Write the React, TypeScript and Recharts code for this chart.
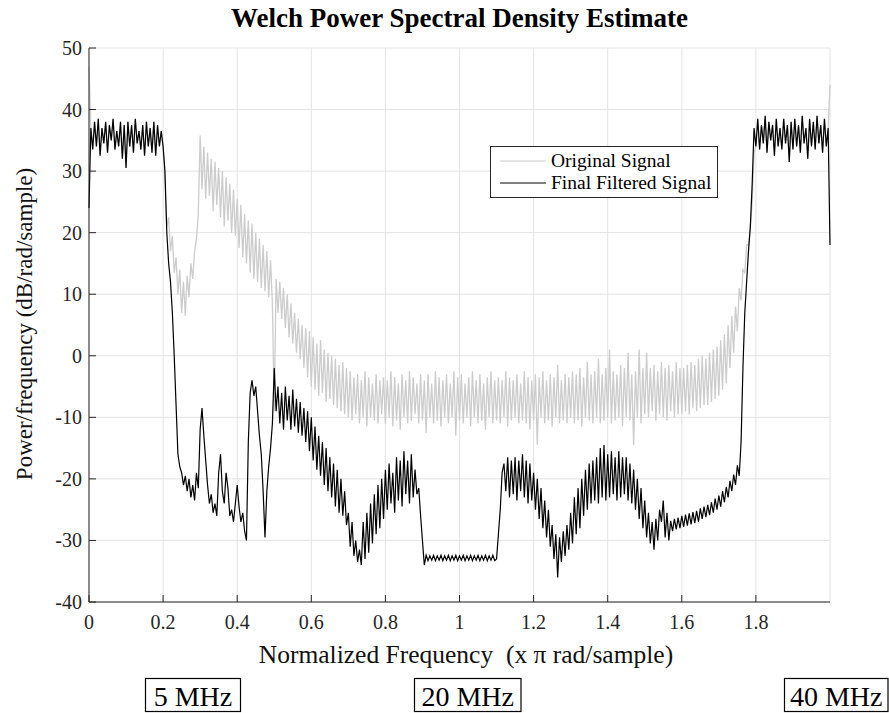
import React from 'react';
import { LineChart, Line, XAxis, YAxis, CartesianGrid, Legend } from 'recharts';

// PSD samples, one every 0.005 (x pi rad/sample), 0 .. 2 ; 20 per row = 0.1 wide
const filtered = [
  24, 37, 33.5, 38, 34, 38.5, 32.5, 37, 34.5, 38, 33, 37.5, 35, 38.5, 33.5, 36.5, 34, 38, 32, 37.5,
  30.5, 38, 34, 37.5, 33, 38.5, 34.5, 36.5, 33.5, 37.5, 32.5, 38, 34, 37, 33, 38, 32.5, 37.5, 34, 36.5,
  34, 30, 20, 15, 12, 7, 0, -8, -16, -18, -19, -21, -19.5, -22, -20, -23, -21, -23.5, -19, -21.5,
  -12, -8.5, -13, -17, -21, -24, -22.5, -25.5, -24, -26, -19, -16, -22, -24, -19, -21.5, -26, -25, -27, -24,
  -21, -24.5, -27, -25.5, -28.5, -30, -14, -6, -4, -6.5, -5, -9, -13, -16, -22, -29.5, -22, -18, -15, -11,
  -2, -9, -5, -11, -6, -12, -5, -10.5, -6.5, -12, -5.5, -11.5, -7, -12.5, -7.5, -13, -8.5, -14, -9, -15.5,
  -10, -17, -11.5, -18.5, -13, -19.5, -14, -21, -15, -22, -16.5, -23, -17.5, -24.5, -18.5, -25.5, -20, -26, -22, -27.5,
  -25.5, -31, -27, -32.5, -30, -33.5, -31.5, -34, -27, -33, -25.5, -32, -24, -30.5, -22.5, -29, -21, -28, -20, -26.5,
  -18.5, -25, -17.5, -24, -19, -25.5, -16.5, -23.5, -17, -24.5, -15.5, -22.5, -17, -24, -16, -23, -18.5, -22.5, -21.5, -26,
  -30, -34, -32.4, -33.3, -32.5, -33.2, -32.4, -33.3, -32.5, -33.2, -32.4, -33.3, -32.5, -33.2, -32.4, -33.3, -32.5, -33.2, -32.4, -33.3,
  -32.5, -33.2, -32.4, -33.3, -32.5, -33.2, -32.4, -33.3, -32.5, -33.2, -32.4, -33.3, -32.5, -33.2, -32.4, -33.3, -32.5, -33.2, -32.4, -33.3,
  -33, -29, -25, -19, -17.5, -22, -16.5, -23, -17, -22.5, -16.5, -23.5, -17, -22, -16, -23, -17, -24, -17.5, -23.5,
  -19, -25, -20, -26.5, -21.5, -28, -23.5, -29.5, -25, -31, -27.5, -33, -29, -36, -29.5, -33.5, -28.5, -32.5, -27.5, -31.5,
  -25.5, -30.5, -23, -29, -21.5, -28, -20, -26, -18.5, -25, -17.5, -24, -17, -23.5, -16.5, -24, -15, -23, -14.5, -23.5,
  -16, -23, -15.5, -22.5, -16.5, -23.5, -15.5, -23, -16.5, -22.5, -16.5, -23.5, -17.5, -24, -18.5, -25, -20, -26.5, -21.5, -28,
  -23.5, -29.5, -25.5, -30.5, -27, -31.5, -26.5, -30, -25, -27, -23.5, -29.5, -25.5, -30, -26.8, -28.5, -26.5, -28.2, -26.3, -28,
  -26, -27.8, -25.8, -27.6, -25.6, -27.4, -25.4, -27.2, -25.2, -27, -24.8, -26.5, -24.5, -26.2, -24.2, -25.9, -23.8, -25.5, -23.2, -25,
  -22.7, -24.5, -22, -23.8, -21.3, -23, -20.3, -22, -19.3, -21, -17.8, -19.5, -14, -2, 7, 12, 17, 21, 28, 37,
  34, 38.5, 33.5, 37.5, 34.5, 39, 33, 38, 35, 37.5, 32.5, 38.5, 34, 37, 33.5, 38.5, 34.5, 37.5, 31.5, 38,
  33.5, 38.5, 34, 37.5, 33, 39, 34.5, 37, 32, 38.5, 34, 38, 33.5, 39, 34.5, 37.5, 33, 38.5, 34, 37,
  18,
];

const original = [
  47, 37, 33.5, 38, 34, 38.5, 32.5, 37, 34.5, 38, 33, 37.5, 35, 38.5, 33.5, 36.5, 34, 38, 32, 37.5,
  30.5, 38, 34, 37.5, 33, 38.5, 34.5, 36.5, 33.5, 37.5, 32.5, 38, 34, 37, 33, 38, 32.5, 37.5, 34, 36.5,
  34, 28, 21, 22.5, 17, 19.5, 13.5, 16, 10, 14, 7, 12, 6.5, 13, 9.5, 15, 12.5, 17, 19, 23,
  35.8, 27, 34, 25.5, 33, 26, 32, 23.5, 31.5, 24.5, 30.5, 22.5, 30, 21, 29, 22, 28, 20, 27, 19.5,
  25.5, 17.5, 24.5, 16, 23, 15, 22, 13.5, 21.5, 12.5, 20, 12, 19, 11, 18, 10.5, 17, 9.5, 15.5, 8.5,
  -9, 12.5, 7, 12, 6, 11, 4.5, 10, 3, 8.5, 2, 7, 0.5, 6, -0.5, 5, -2, 4.5, -3.5, 4,
  -5, 3, -5.5, 2, -6.5, 2.5, -6, 1, -7.5, 0.5, -7, 0, -8, -0.5, -8.5, -1.5, -9, -1, -9.5, -2,
  -10, -2.5, -10.5, -3.5, -9.5, -3, -11, -4, -10, -2.5, -11.5, -3.5, -10, -4.5, -10.5, -3, -11, -4, -9.5, -3.5,
  -11, -4, -10, -2.5, -11.5, -3.5, -10.5, -4.5, -12, -3, -10, -4, -11, -2.5, -10.5, -3.5, -9.5, -4.5, -11, -3,
  -10.5, -4, -12.5, -3, -10, -4.5, -11, -2.5, -10.5, -3.5, -11.5, -4, -10, -3, -11, -4.5, -10, -2.5, -13, -3.5,
  -10.5, -3, -11, -4.5, -10, -3.5, -11.5, -2.5, -10, -4, -11, -3, -10.5, -4.5, -12, -3.5, -10, -2.5, -11, -4,
  -10.5, -3.5, -11, -4, -10, -2.5, -11.5, -3.5, -10.5, -4, -10, -3, -11, -4.5, -10.5, -2.5, -11, -3.5, -12, -4,
  -10.5, -3, -14.5, -3.5, -10, -2.5, -11, -4, -10.5, -3, -11.5, -3.5, -10, -1.5, -11, -4, -10.5, -3, -11, -3.5,
  -10, -2.5, -11, -3, -10.5, -2, -11.5, -3.5, -10, -1, -10.5, -3, -11, -2.5, -10, -0.5, -11, -3, -10.5, -2,
  -10, 1, -11, -2.5, -10.5, -3, -10, -1.5, -11.5, -2, -10, 0.5, -10.5, -3, -14.5, -2.5, -10, 1, -11, -2,
  -9.5, 0.5, -10, -2, -9, -1.5, -10.5, -2.5, -9.5, -1, -10, -2, -10.5, -1.5, -9, -2.5, -10, -1, -9.5, -2,
  -9.5, -2, -9, -1.5, -9.5, -1, -8.5, -1.5, -9, -0.5, -8.5, 0, -8, -0.5, -8, 0.5, -7.5, 1, -7, 1.5,
  -6.5, 2.5, -5.5, 3.5, -4.5, 5, -2, 6.5, 0.5, 8, 4, 11, 9, 14, 13.5, 18, 18, 21, 25, 33,
  34, 38.5, 33.5, 37.5, 34.5, 39, 33, 38, 35, 37.5, 32.5, 38.5, 34, 37, 33.5, 38.5, 34.5, 37.5, 31.5, 38,
  33.5, 38.5, 34, 37.5, 33, 39, 34.5, 37, 32, 38.5, 34, 38, 33.5, 39, 34.5, 37.5, 33, 38.5, 34, 37,
  44,
];

const freq = filtered.map((_, i) => i / 200);
const xTicks = [0, 0.2, 0.4, 0.6, 0.8, 1, 1.2, 1.4, 1.6, 1.8];
const yTicks = [-40, -30, -20, -10, 0, 10, 20, 30, 40, 50];
const seriesNames = ['Original Signal', 'Final Filtered Signal'];
const bandLabels = ['5 MHz', '20 MHz', '40 MHz'];

const data = freq.map((f, i) => ({ f, original: original[i], filtered: filtered[i] }));

const FONT = 'Liberation Serif';
const AXIS = '#262626';

// boxes under the plot, pixel layout
const boxes = [
  { x: 145.5, w: 95 },
  { x: 414.5, w: 106.5 },
  { x: 784.5, w: 103.5 },
];

const LegendBox = ({ payload }: any) => {
  const items = seriesNames
    .map((n) => (payload || []).find((p: any) => p.value === n))
    .filter(Boolean);
  return (
    <div style={{
      width: 226, height: 47, border: `1px solid ${AXIS}`, background: '#fff',
      fontFamily: FONT, fontSize: 19.5, color: '#000', paddingTop: 3, boxSizing: 'content-box', lineHeight: '22px',
    }}>
      {items.map((p: any) => (
        <div key={p.value} style={{ display: 'flex', alignItems: 'center', height: 22, whiteSpace: 'nowrap' }}>
          <svg width={60} height={4} style={{ flex: 'none' }}>
            <line x1={9} x2={55} y1={2} y2={2} stroke={p.color} strokeWidth={1} />
          </svg>
          <span>{p.value}</span>
        </div>
      ))}
    </div>
  );
};

const XTick = ({ x, y, payload }: any) => (
  <text x={x} y={y} dy={15} textAnchor="middle" fill={AXIS} fontSize={20} fontFamily={FONT}>
    {String(payload.value)}
  </text>
);

const YTick = ({ x, y, payload }: any) => (
  <text x={x} y={y} dy={7} textAnchor="end" fill={AXIS} fontSize={20} fontFamily={FONT}>
    {String(payload.value)}
  </text>
);

export default function App() {
  return (
    <div style={{ position: 'absolute', left: 0, top: 0, width: 889, height: 713, background: '#fff', fontFamily: FONT }}>
      <LineChart width={889} height={713} data={data} margin={{ top: 48, right: 59, bottom: 45, left: 10 }}>
        <CartesianGrid stroke="#e3e3e3" strokeWidth={1} />
        <XAxis
          dataKey="f" type="number" domain={[0, 2]} ticks={xTicks} height={66}
          tickSize={-7} tickMargin={19} stroke={AXIS} tick={<XTick />}
        />
        <XAxis xAxisId="top" orientation="top" dataKey="f" type="number" domain={[0, 2]} ticks={xTicks}
          height={0} tickSize={-7} tick={false} stroke={AXIS} />
        <YAxis
          type="number" domain={[-40, 50]} ticks={yTicks} width={79}
          tickSize={-7} tickMargin={14} stroke={AXIS} tick={<YTick />}
        />
        <YAxis yAxisId="right" orientation="right" type="number" domain={[-40, 50]} ticks={yTicks}
          width={0} tickSize={-7} tick={false} stroke={AXIS} />
        <Line dataKey="original" name={seriesNames[0]} stroke="#cccccc" strokeWidth={1.3} dot={false} isAnimationActive={false} />
        <Line dataKey="filtered" name={seriesNames[1]} stroke="#000000" strokeWidth={1.2} dot={false} isAnimationActive={false} />
        <Legend layout="vertical" align="center" verticalAlign="middle" content={<LegendBox />}
          wrapperStyle={{ left: 490, top: 146, width: 'auto' }} />
      </LineChart>
      <svg width={889} height={713} style={{ position: 'absolute', left: 0, top: 0, pointerEvents: 'none' }}>
        <text x={459.5} y={27} textAnchor="middle" fontFamily={FONT} fontWeight="bold" fontSize={27} fill="#000">
          Welch Power Spectral Density Estimate
        </text>
        <text x={466} y={663} textAnchor="middle" fontFamily={FONT} fontSize={25.5} fill="#111" style={{ whiteSpace: 'pre' }}>
          {'Normalized Frequency  (x \u03c0 rad/sample)'}
        </text>
        <text transform="translate(32 324) rotate(-90)" textAnchor="middle" fontFamily={FONT} fontSize={23} fill="#111">
          Power/frequency (dB/rad/sample)
        </text>
        {bandLabels.map((t, i) => (
          <g key={t}>
            <rect x={boxes[i].x} y={678.5} width={boxes[i].w} height={33} fill="none" stroke="#000" strokeWidth={1.2} />
            <text x={boxes[i].x + boxes[i].w / 2} y={706} textAnchor="middle" fontFamily={FONT} fontSize={28} fill="#000">{t}</text>
          </g>
        ))}
      </svg>
    </div>
  );
}
